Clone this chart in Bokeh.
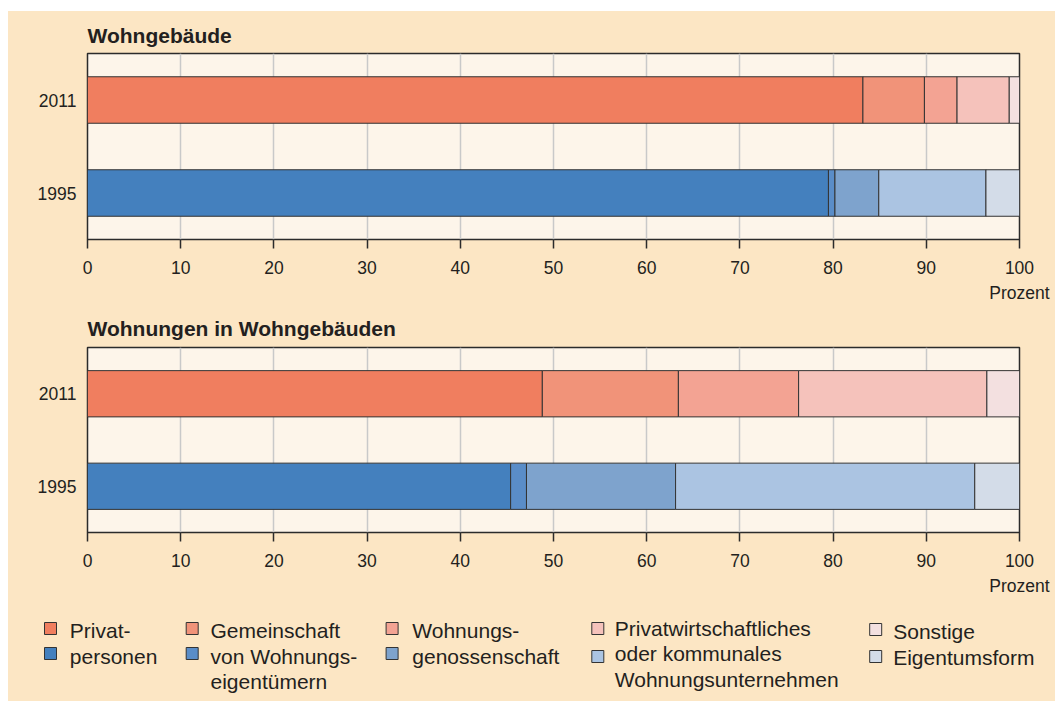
import numpy as np
from bokeh.plotting import figure
from bokeh.models import Range1d, FactorRange, FixedTicker, LinearAxis, ColumnDataSource
from bokeh.layouts import column, row
from bokeh.embed import file_html
from bokeh.resources import INLINE
from bokeh.core.properties import value

# ---------------- data ----------------
years = ["1995", "2011"]
owner_types = [
    "Privatpersonen",
    "Gemeinschaft von Wohnungseigentümern",
    "Wohnungsgenossenschaft",
    "Privatwirtschaftliches oder kommunales Wohnungsunternehmen",
    "Sonstige Eigentumsform",
]
gebaeude_2011 = [83.2, 6.6, 3.5, 5.6, 1.1]
gebaeude_1995 = [79.5, 0.7, 4.7, 11.5, 3.6]
wohnungen_2011 = [48.8, 14.6, 12.9, 20.2, 3.5]
wohnungen_1995 = [45.4, 1.7, 16.0, 32.1, 4.8]
x_ticks = [0, 10, 20, 30, 40, 50, 60, 70, 80, 90, 100]
x_unit = "Prozent"
chart_titles = ["Wohngebäude", "Wohnungen in Wohngebäuden"]
legend_lines = [
    ["Privat-", "personen"],
    ["Gemeinschaft", "von Wohnungs-", "eigentümern"],
    ["Wohnungs-", "genossenschaft"],
    ["Privatwirtschaftliches", "oder kommunales", "Wohnungsunternehmen"],
    ["Sonstige", "Eigentumsform"],
]

# ---------------- style ----------------
FONT = "Liberation Sans"
TXT = "#231f20"
OUTER = "#fce6c4"
INNER = "#fdf5ea"
colors_2011 = ["#f07e5f", "#f19379", "#f3a393", "#f5c2bb", "#f3e0e0"]
colors_1995 = ["#4480be", "#5a8dc8", "#7ea3cd", "#abc4e2", "#d3dce8"]
W = 1047
FRAME_H = 186


def make_chart(title, vals_1995, vals_2011, top, bottom, title_standoff):
    p = figure(width=W, height=top + FRAME_H + bottom,
               x_range=Range1d(0, 100),
               y_range=FactorRange(factors=years, range_padding=0, factor_padding=0),
               output_backend="svg", toolbar_location=None,
               min_border_left=79, min_border_right=36,
               min_border_top=top, min_border_bottom=bottom,
               title=title)
    p.title.align = "left"
    p.title.text_font = FONT
    p.title.text_font_style = "bold"
    p.title.text_font_size = "21px"
    p.title.text_color = TXT
    p.title.standoff = title_standoff
    p.background_fill_color = INNER
    p.border_fill_color = OUTER
    p.outline_line_color = "#2b2b2b"
    p.outline_line_width = 1.5
    p.ygrid.grid_line_color = None
    p.xgrid.grid_line_color = "#c9c9c9"
    p.xgrid.grid_line_width = 1.5
    p.xgrid.ticker = FixedTicker(ticks=x_ticks)

    p.xaxis.ticker = FixedTicker(ticks=x_ticks)
    p.xaxis.axis_line_color = None
    p.xaxis.major_tick_out = 9
    p.xaxis.major_tick_in = 0
    p.xaxis.major_tick_line_color = "#2b2b2b"
    p.xaxis.major_tick_line_width = 1.5
    p.xaxis.minor_tick_line_color = None
    p.xaxis.major_label_standoff = 12
    p.xaxis.major_label_text_font = FONT
    p.xaxis.major_label_text_font_size = "17.5px"
    p.xaxis.major_label_text_color = TXT

    unit_axis = LinearAxis(ticker=FixedTicker(ticks=[100]),
                           major_label_overrides={100: x_unit},
                           axis_line_color=None, major_tick_line_color=None,
                           minor_tick_line_color=None, major_tick_out=0, major_tick_in=0,
                           major_label_standoff=6,
                           major_label_text_font=FONT,
                           major_label_text_font_size="17.5px",
                           major_label_text_color=TXT)
    p.add_layout(unit_axis, "below")

    p.yaxis.axis_line_color = None
    p.yaxis.major_tick_line_color = None
    p.yaxis.minor_tick_line_color = None
    p.yaxis.major_tick_out = 0
    p.yaxis.major_tick_in = 0
    p.yaxis.major_label_standoff = 11
    p.yaxis.major_label_text_font = FONT
    p.yaxis.major_label_text_font_size = "17.5px"
    p.yaxis.major_label_text_color = TXT

    for year, vals, cols in (("1995", vals_1995, colors_1995), ("2011", vals_2011, colors_2011)):
        v = np.array(vals, dtype=float)
        right = np.cumsum(v)
        left = right - v
        src = ColumnDataSource(dict(y=[year] * len(v), left=left, right=right,
                                    color=cols, name=owner_types))
        p.hbar(y="y", left="left", right="right", height=0.5, source=src,
               fill_color="color", line_color="#333333", line_width=1)
    return p


p1 = make_chart(chart_titles[0], gebaeude_1995, gebaeude_2011, 42, 68, 13)
p2 = make_chart(chart_titles[1], wohnungen_1995, wohnungen_2011, 39, 68, 15)

# ---------------- legend ----------------
LH = 101
p3 = figure(width=W, height=LH, x_range=Range1d(0, W), y_range=Range1d(LH, 0),
            x_axis_type=None, y_axis_type=None, min_border=0,
            output_backend="svg", toolbar_location=None)
p3.background_fill_color = OUTER
p3.border_fill_color = OUTER
p3.outline_line_color = None
p3.grid.visible = False

sq_x = [42, 183.7, 383.6, 589.3, 867.2]
tx_x = [61.3, 202, 403.8, 606.3, 884.7]
sq_y = [(28, 53), (28, 53), (28, 53), (28, 56), (29, 56)]
tx_base = [37.5, 37.5, 37.5, 35, 38.5]
line_h = 25.5
mid_shift = 7.3  # from baseline to middle of the text box

rx, ry, rc = [], [], []
tx, ty, tt = [], [], []
for i, lines in enumerate(legend_lines):
    rx += [sq_x[i], sq_x[i]]
    ry += [sq_y[i][0], sq_y[i][1]]
    rc += [colors_2011[i], colors_1995[i]]
    for j, line in enumerate(lines):
        tx.append(tx_x[i])
        ty.append(tx_base[i] + j * line_h - mid_shift)
        tt.append(line)

p3.rect(x=rx, y=ry, width=12, height=12, fill_color=rc,
        line_color="#333333", line_width=1)
p3.text(x=tx, y=ty, text=tt, text_font=value(FONT), text_font_size="21px",
        text_color=TXT, text_align="left", text_baseline="middle")

legend_row = row(p3)
layout = column(p1, p2, legend_row, spacing=0, margin=(11, 0, 0, 8),
                styles={"background-color": OUTER})
open("out.html", "w").write(file_html(layout, INLINE))
